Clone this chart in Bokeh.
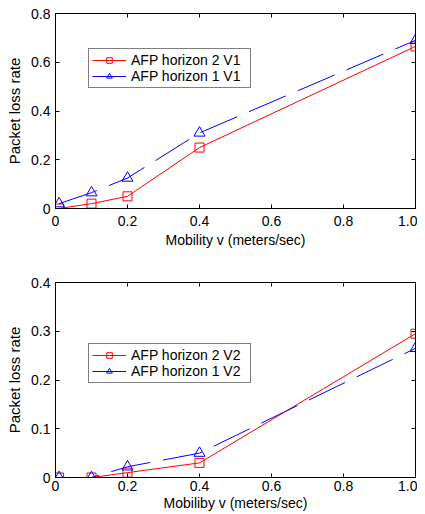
from bokeh.plotting import figure
from bokeh.layouts import column
from bokeh.models import LinearAxis, FixedTicker, Legend, LegendItem
from bokeh.embed import file_html
from bokeh.resources import INLINE

# ---- data ----
mobility = [0.01, 0.1, 0.2, 0.4, 1.0]
v1_horizon2 = [0.0, 0.02, 0.05, 0.25, 0.665]
v1_horizon1 = [0.02, 0.065, 0.125, 0.31, 0.69]
v2_horizon2 = [0.0, 0.0, 0.01, 0.03, 0.295]
v2_horizon1 = [0.0, 0.0, 0.022, 0.05, 0.265]

x_ticks = [0, 0.2, 0.4, 0.6, 0.8, 1.0]
x_tick_labels = ["0", "0.2", "0.4", "0.6", "0.8", "1.0"]
y1_ticks = [0, 0.2, 0.4, 0.6, 0.8]
y1_tick_labels = ["0", "0.2", "0.4", "0.6", "0.8"]
y2_ticks = [0, 0.1, 0.2, 0.3, 0.4]
y2_tick_labels = ["0", "0.1", "0.2", "0.3", "0.4"]

FONT = "Liberation Sans"


def style_axis(ax, ticks, labels, show_labels=True):
    ax.ticker = FixedTicker(ticks=ticks)
    if show_labels:
        ax.major_label_overrides = {t: l for t, l in zip(ticks, labels)}
    else:
        ax.major_label_overrides = {t: "" for t in ticks}
        ax.major_label_standoff = 0
    ax.major_tick_in = 4
    ax.major_tick_out = 0
    ax.minor_tick_in = 0
    ax.minor_tick_out = 0
    ax.axis_line_color = "black"
    ax.major_tick_line_color = "black"
    ax.major_label_text_font = FONT
    ax.major_label_text_font_size = "14px"
    ax.major_label_text_color = "black"
    ax.axis_label_text_font = FONT
    ax.axis_label_text_font_size = "14px"
    ax.axis_label_text_font_style = "normal"
    ax.axis_label_text_color = "black"


def make_plot(y_range, yt, ytl, red, blue, xlabel, lab_red, lab_blue,
              top_border, bottom_border, legend_loc, xl_standoff, xa_standoff):
    p = figure(frame_width=360, frame_height=195, x_range=(0, 1.0), y_range=y_range,
               output_backend="svg", toolbar_location=None,
               min_border_left=55, min_border_right=2,
               min_border_top=top_border, min_border_bottom=bottom_border)
    p.grid.visible = False
    p.outline_line_color = "black"
    p.background_fill_color = "white"
    p.border_fill_color = "white"

    style_axis(p.xaxis[0], x_ticks, x_tick_labels)
    style_axis(p.yaxis[0], yt, ytl)
    p.xaxis[0].axis_label = xlabel
    p.yaxis[0].axis_label = "Packet loss rate"
    p.yaxis[0].axis_label_text_font_size = "15px"
    p.xaxis[0].major_label_standoff = xl_standoff
    p.xaxis[0].axis_label_standoff = xa_standoff
    p.yaxis[0].major_label_standoff = 5
    p.yaxis[0].axis_label_standoff = 5

    top = LinearAxis()
    style_axis(top, x_ticks, x_tick_labels, show_labels=False)
    p.add_layout(top, "above")
    right = LinearAxis()
    style_axis(right, yt, ytl, show_labels=False)
    p.add_layout(right, "right")

    r_line = p.line(mobility, red, line_color="red", line_width=1)
    r_mark = p.scatter(mobility, red, marker="square", size=9,
                       fill_color=None, line_color="red", line_width=1)
    b_line = p.line(mobility, blue, line_color="blue", line_width=1,
                    line_dash="40 13")
    b_mark = p.scatter(mobility, blue, marker="triangle", size=11,
                       fill_color=None, line_color="blue", line_width=1)

    legend = Legend(items=[
        LegendItem(label=lab_red, renderers=[r_line, r_mark]),
        LegendItem(label=lab_blue, renderers=[b_line, b_mark]),
    ], location=legend_loc)
    legend.label_text_font = FONT
    legend.label_text_font_size = "14px"
    legend.label_text_color = "black"
    legend.border_line_color = "black"
    legend.border_line_width = 1
    legend.background_fill_alpha = 1
    legend.glyph_width = 34
    legend.glyph_height = 14
    legend.label_height = 14
    legend.label_width = 116
    legend.spacing = 0
    legend.padding = 3
    legend.margin = 0
    legend.label_standoff = 5
    p.add_layout(legend, "center")
    return p


p1 = make_plot((0, 0.8), y1_ticks, y1_tick_labels, v1_horizon2, v1_horizon1,
               "Mobility v (meters/sec)", "AFP horizon 2 V1", "AFP horizon 1 V1",
               13, 49, (33, 120), 7, 3)
p2 = make_plot((0, 0.4), y2_ticks, y2_tick_labels, v2_horizon2, v2_horizon1,
               "Mobiliby v (meters/sec)", "AFP horizon 2 V2", "AFP horizon 1 V2",
               25, 32, (33, 94), 3, 1)

layout = column(p1, p2, spacing=0)
open("out.html", "w").write(file_html(layout, INLINE))
